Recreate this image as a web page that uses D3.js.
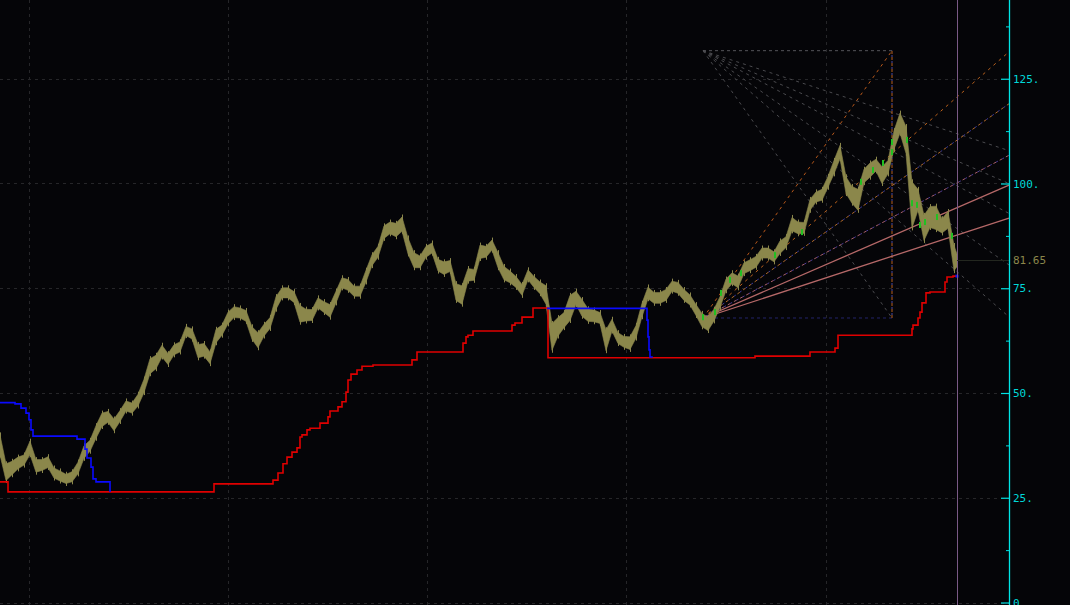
<!DOCTYPE html>
<html>
<head>
<meta charset="utf-8">
<script src="https://cdn.jsdelivr.net/npm/d3@7/dist/d3.min.js"></script>
<style>
html,body{margin:0;padding:0;background:#050508;}
svg{display:block;}
</style>
</head>
<body>
<svg id="chart" width="1070" height="605"></svg>
<script>
// ---------------- DATA ----------------
// price samples (mid value) every 6 bars, last one is the final bar
const priceMid = [
37.6,31.1,32.1,33.3,34.0,36.9,32.6,32.8,33.5,30.9,
30.2,29.5,30.0,32.1,35.9,37.4,40.7,43.6,44.3,42.4,
44.5,46.9,46.4,48.3,51.7,56.4,57.4,60.0,58.1,60.3,
61.0,64.8,64.1,60.0,60.3,58.4,63.6,65.0,67.9,69.3,
69.1,68.4,64.3,62.6,65.0,66.7,71.5,73.9,73.9,72.9,
68.9,68.6,68.6,71.5,70.5,69.6,72.9,76.3,75.8,74.3,
74.3,77.9,81.7,83.7,88.4,89.4,88.9,90.3,85.1,81.7,
81.3,83.7,84.6,80.5,79.8,80.3,74.1,73.4,78.2,78.2,
83.7,83.7,85.3,81.7,78.6,77.7,76.5,74.6,78.2,76.5,
75.1,73.4,63.4,65.8,67.4,70.3,72.7,70.3,68.6,68.4,
67.9,62.6,66.2,63.1,62.2,61.9,64.6,69.8,73.9,72.7,
72.7,73.4,75.5,75.1,73.4,72.2,69.8,67.4,66.5,68.6,
71.7,75.8,77.4,76.5,79.8,80.5,81.3,83.4,83.4,82.5,
84.8,86.0,90.3,89.4,89.4,94.9,96.8,97.3,100.4,103.9,
107.5,99.6,97.3,96.1,101.8,103.2,104.4,102.0,103.9,110.4,
114.4,110.4,94.9,96.1,89.4,92.0,91.8,89.9,91.3,82.2,
81.65];
// half of the high-low range of each sample
const priceSpread = [
2.4,2.0,1.6,1.4,1.2,1.6,1.5,1.3,1.3,1.2,
1.2,1.1,1.2,1.4,1.5,1.3,1.5,1.6,1.3,1.4,
1.3,1.2,1.2,1.4,1.6,1.8,1.6,1.4,1.3,1.2,
1.2,1.1,1.2,1.6,1.5,1.4,1.6,1.2,1.4,1.3,
1.2,1.3,1.5,1.8,1.4,1.3,1.5,1.2,1.2,1.3,
2.0,1.4,1.3,1.2,1.3,1.5,1.4,1.2,1.3,1.2,
1.2,1.4,1.3,1.3,1.5,1.4,1.6,1.7,1.9,1.8,
1.4,1.3,1.2,1.4,1.5,1.3,2.0,2.2,1.5,1.3,
1.6,1.3,1.2,1.8,1.6,1.4,1.3,1.3,1.2,1.3,
1.4,2.2,3.2,2.2,1.8,3.0,1.6,2.0,1.5,1.4,
1.3,2.5,1.4,1.3,1.3,1.5,1.5,1.6,1.4,1.3,
1.3,1.3,1.2,1.3,1.3,1.2,1.3,1.6,1.6,1.4,
1.3,1.4,1.3,1.4,1.3,1.3,1.3,1.2,1.2,1.2,
1.5,1.3,1.6,1.4,1.3,1.3,1.2,1.3,1.3,1.6,
1.6,2.0,2.0,2.5,1.6,1.7,1.4,2.0,1.6,2.2,
2.4,3.2,5.5,2.5,3.0,2.5,2.8,1.7,2.0,3.0,
1.5];
const priceBars = d3.range(0, 960, 6).concat([957]);
const lastClose = 81.65;
const lastBar = 957;

// green touch marks on the price near the fan lines: bar, value
const touchBars = [703, 715, 721, 730, 741, 775, 802, 861, 873, 883, 892, 892, 907, 912, 917, 920, 925, 937, 952];
const touchValues = [68.1, 69.3, 73.9, 77.0, 78.6, 82.9, 88.4, 100.4, 103.2, 104.9, 109.9, 107.5, 110.4, 95.3, 94.9, 90.1, 90.8, 92.0, 87.5];

// trailing stop (red), step start bars and levels
const stopBars = [0,8,214,273,278,283,287,292,297,300,302,307,310,320,328,330,338,342,346,348,351,357,362,373,412,417,463,466,468,473,512,515,522,533,548,755,810,835,838,912,913,918,920,922,926,930,945,947,953,957];
const stopValues = [28.8,26.4,28.3,29.2,30.9,33.1,34.7,35.9,36.9,39.5,40.0,41.2,41.6,42.8,44.3,45.7,46.7,47.9,50.2,53.1,54.5,55.5,56.4,56.7,57.9,59.8,61.9,63.4,63.8,64.8,66.2,66.7,68.1,70.3,58.4,58.8,59.8,60.7,63.8,65.3,66.2,67.9,69.3,71.5,73.9,74.1,76.5,77.7,77.9,77.9];

// blue stop segments
const blue1Bars = [0,15,21,26,29,31,33,77,85,87,91,93,96,110];
const blue1Values = [47.7,47.4,46.4,45.2,43.6,41.2,39.7,39.0,36.6,34.5,32.3,29.5,28.8,26.4];
const blue2Bars = [547,647,648,649,650,652];
const blue2Values = [70.2,67.4,63.4,60.3,58.6,58.4];

// fan box
const fanStartBar = 703, fanEndBar = 892, fanLow = 67.9, fanHigh = 131.7;
const fanRatios = [1, 0.615, 0.495, 0.376, 0.307, 0.231];

// axis
const yTicks = [0, 25, 50, 75, 100, 125];
const yMinorTicks = [12.5, 37.5, 62.5, 87.5, 112.5, 137.5];
const yTickLabels = ["0", "25.", "50.", "75.", "100.", "125."];
const gridBars = [29, 228, 427, 626, 826];

// ---------------- DRAW ----------------
const W = 1070, H = 605, axisX = 1009;
const svg = d3.select("#chart");
svg.append("rect").attr("width", W).attr("height", H).attr("fill", "#050508");

const x = d3.scaleLinear().domain([0, 1009]).range([0, axisX]);
const y = d3.scaleLinear().domain([0, 125]).range([602.5, 78.75]);

// grid
const grid = svg.append("g").attr("stroke", "#262629").attr("stroke-width", 1).attr("stroke-dasharray", "3,4");
yTicks.forEach(v => grid.append("line").attr("x1", 0).attr("x2", axisX).attr("y1", Math.round(y(v)) + 0.5).attr("y2", Math.round(y(v)) + 0.5));
gridBars.forEach(b => grid.append("line").attr("x1", Math.round(x(b)) + 0.5).attr("x2", Math.round(x(b)) + 0.5).attr("y1", 0).attr("y2", H));

// fan lines
const fan = svg.append("g").attr("fill", "none");
const ext = 1009;
function fanLine(x1, v1, x2, v2, color, dash, width, offset) {
  fan.append("line").attr("x1", x(x1)).attr("y1", y(v1)).attr("x2", x(x2)).attr("y2", y(v2))
    .attr("stroke", color).attr("stroke-width", width || 1)
    .attr("stroke-dasharray", dash || null).attr("stroke-dashoffset", offset || 0);
}
const hgt = fanHigh - fanLow;
// descending gray fan from top-left corner
fanRatios.forEach(r => {
  const vEnd = fanHigh - r * hgt;
  const slope = (vEnd - fanHigh) / (fanEndBar - fanStartBar);
  if (r === 1) fanLine(fanStartBar, fanHigh, fanEndBar, vEnd, "#4a4a4e", "3,4");
  else fanLine(fanStartBar, fanHigh, ext, fanHigh + slope * (ext - fanStartBar), "#4a4a4e", "3,4");
});
// top edge
fanLine(fanStartBar, fanHigh, fanEndBar, fanHigh, "#55555a", "3,3");
// bottom edge
fanLine(fanStartBar, fanLow, fanEndBar, fanLow, "#24246a", "3,3");
// right edge
fanLine(fanEndBar, fanLow, fanEndBar, fanHigh, "#b8601c", "3,3");
fanLine(fanEndBar, fanLow, fanEndBar, fanHigh, "#4a4aa8", "2,4", 1, 3);
// ascending fan from bottom-left corner
const fanStyle = [
  {c: "#b8581a", d: "3,4", w: 1},
  {c: "#b8601c", d: "3,4", w: 1},
  {c: "#b06a2a", d: "3,4", w: 1, c2: "#3a3aa0"},
  {c: "#a8606c", d: "3,4", w: 1, c2: "#4a3a9a"},
  {c: "#b56868", d: null, w: 1.3},
  {c: "#b56868", d: null, w: 1.3}
];
fanRatios.forEach((r, i) => {
  const vEnd = fanLow + r * hgt;
  const slope = (vEnd - fanLow) / (fanEndBar - fanStartBar);
  const xe = r === 1 ? fanEndBar : ext;
  const ve = r === 1 ? vEnd : fanLow + slope * (ext - fanStartBar);
  const s = fanStyle[i];
  fanLine(fanStartBar, fanLow, xe, ve, s.c, s.d, s.w);
  if (s.c2) fanLine(fanStartBar, fanLow, xe, ve, s.c2, "2,5", 1, 4);
});

// price band
const pts = priceMid.map((m, i) => ({b: priceBars[i], hi: m + priceSpread[i], lo: m - priceSpread[i]}));
const area = d3.area().x(d => x(d.b)).y0(d => y(d.lo)).y1(d => y(d.hi)).curve(d3.curveLinear);
svg.append("path").datum(pts).attr("d", area).attr("fill", "#8b874b").attr("stroke", "#8b874b").attr("stroke-width", 0.6);
// vertical bar ticks for texture
svg.append("g").selectAll("line").data(pts).join("line")
  .attr("x1", d => x(d.b) + 0.5).attr("x2", d => x(d.b) + 0.5)
  .attr("y1", d => y(d.hi) - 2.5).attr("y2", d => y(d.lo) + 2.5)
  .attr("stroke", "#8b874b").attr("stroke-width", 1);
// green touch marks
svg.append("g").selectAll("rect").data(touchBars.map((b, i) => [b, touchValues[i]])).join("rect")
  .attr("x", d => x(d[0]) - 1).attr("y", d => y(d[1]) - 3).attr("width", 2).attr("height", 6)
  .attr("fill", "#22c022");

// stops
const stepLine = d3.line().x(d => x(d[0])).y(d => y(d[1])).curve(d3.curveStepAfter);
svg.append("path").datum(stopBars.map((b, i) => [b, stopValues[i]])).attr("d", stepLine)
  .attr("fill", "none").attr("stroke", "#e00000").attr("stroke-width", 1.6);
svg.append("path").datum(blue1Bars.map((b, i) => [b, blue1Values[i]])).attr("d", stepLine)
  .attr("fill", "none").attr("stroke", "#0a0aff").attr("stroke-width", 1.6);
svg.append("path").datum(blue2Bars.map((b, i) => [b, blue2Values[i]])).attr("d", stepLine)
  .attr("fill", "none").attr("stroke", "#0a0aff").attr("stroke-width", 1.6);
svg.append("rect").attr("x", x(lastBar) - 1.5).attr("y", y(stopValues[stopValues.length - 1]) - 1.5)
  .attr("width", 3).attr("height", 3).attr("fill", "#0a0aff");

// current bar marker
svg.append("line").attr("x1", x(lastBar) + 0.5).attr("x2", x(lastBar) + 0.5).attr("y1", 0).attr("y2", H)
  .attr("stroke", "#7a5a86").attr("stroke-width", 1);
svg.append("line").attr("x1", x(lastBar)).attr("x2", axisX).attr("y1", Math.round(y(lastClose)) + 0.5).attr("y2", Math.round(y(lastClose)) + 0.5)
  .attr("stroke", "#23271f").attr("stroke-width", 1);

// axis
const axisG = svg.append("g").attr("transform", `translate(${axisX},0)`);
axisG.call(d3.axisRight(y).tickValues(yTicks).tickSizeInner(-8).tickSizeOuter(0).tickPadding(12)
  .tickFormat(d => yTickLabels[yTicks.indexOf(d)]));
axisG.select(".domain").remove();
axisG.selectAll(".tick line").attr("stroke", "#00e0e0").attr("stroke-width", 1.2);
axisG.selectAll(".tick text").attr("fill", "#00d8d8").attr("font-family", "DejaVu Sans Mono, monospace")
  .attr("font-size", 11).attr("x", 4);
const minorG = svg.append("g").attr("transform", `translate(${axisX},0)`);
minorG.call(d3.axisRight(y).tickValues(yMinorTicks).tickSizeInner(-3).tickSizeOuter(0).tickFormat(""));
minorG.select(".domain").remove();
minorG.selectAll(".tick line").attr("stroke", "#00e0e0");
svg.append("line").attr("x1", axisX + 0.5).attr("x2", axisX + 0.5).attr("y1", 0).attr("y2", H)
  .attr("stroke", "#00e5e5").attr("stroke-width", 1.3);

// last price label
svg.append("text").attr("x", axisX + 4).attr("y", y(lastClose)).attr("dy", "0.32em")
  .attr("fill", "#8b874b").attr("font-family", "DejaVu Sans Mono, monospace").attr("font-size", 11)
  .text(lastClose.toFixed(2));
</script>
</body>
</html>
